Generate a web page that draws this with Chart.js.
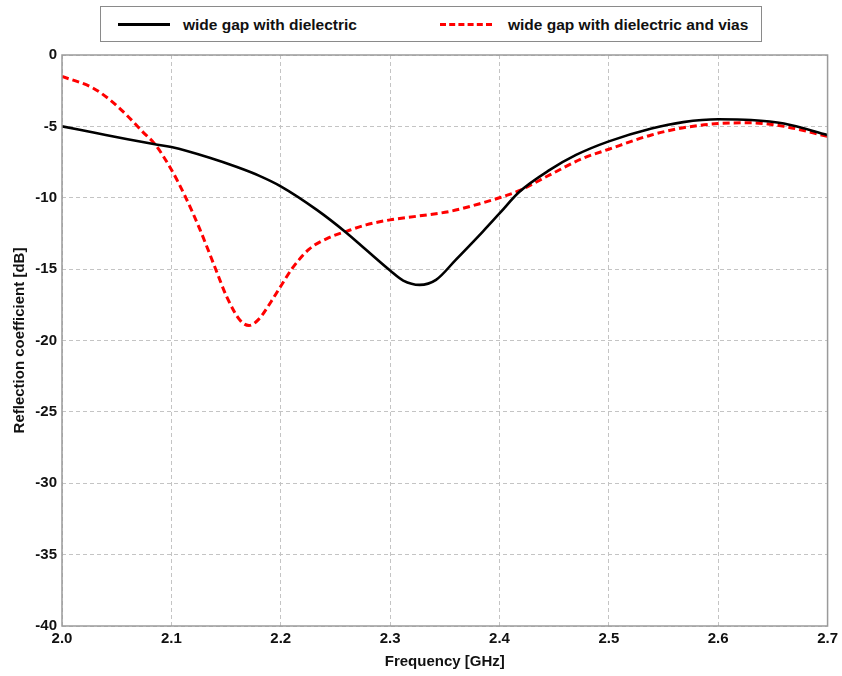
<!DOCTYPE html>
<html>
<head>
<meta charset="utf-8">
<script src="https://cdn.jsdelivr.net/npm/chart.js@4.4.1/dist/chart.umd.min.js"></script>
<style>
  html, body { margin: 0; padding: 0; background: #fff; }
  #wrap { position: relative; width: 842px; height: 676px; }
  #legend {
    position: absolute; left: 100px; top: 6px; width: 662px; height: 36px;
    border: 1px solid #8a8a8a; background: #fff; box-sizing: border-box;
    font: bold 15.5px "Liberation Sans", Arial, sans-serif; color: #111;
  }
  .item { position: absolute; top: 0; height: 35px; display: flex; align-items: center; }
  .sample { width: 52px; height: 0; margin-right: 13px; }
</style>
</head>
<body>
<div id="wrap">
  <canvas id="c" width="842" height="676"></canvas>
  <div id="legend">
    <div class="item" style="left:17px"><span class="sample" style="border-top:3px solid #000"></span><span>wide gap with dielectric</span></div>
    <div class="item" style="left:339px"><span class="sample" style="border-top:3px dashed #ff0000;margin-right:16px"></span><span>wide gap with dielectric and vias</span></div>
  </div>
</div>
<script>
// ---- data ----
const seriesNames = ["wide gap with dielectric", "wide gap with dielectric and vias"];
const freqBlack = [2.000, 2.030, 2.060, 2.085, 2.100, 2.135, 2.160, 2.180, 2.200, 2.233, 2.260, 2.278, 2.300, 2.312, 2.327, 2.342, 2.360, 2.385, 2.400, 2.418, 2.446, 2.470, 2.500, 2.539, 2.568, 2.600, 2.630, 2.660, 2.700];
const dbBlack   = [-5.0, -5.45, -5.9, -6.25, -6.45, -7.2, -7.85, -8.45, -9.2, -10.85, -12.45, -13.65, -15.1, -15.8, -16.1, -15.75, -14.35, -12.35, -11.1, -9.6, -8.05, -7.0, -6.05, -5.15, -4.7, -4.5, -4.55, -4.8, -5.6];
const freqRed = [2.000, 2.028, 2.044, 2.059, 2.074, 2.085, 2.099, 2.112, 2.126, 2.140, 2.151, 2.163, 2.171, 2.180, 2.191, 2.200, 2.211, 2.226, 2.244, 2.260, 2.278, 2.300, 2.324, 2.355, 2.385, 2.400, 2.418, 2.446, 2.476, 2.500, 2.539, 2.568, 2.600, 2.630, 2.660, 2.700];
const dbRed   = [-1.5, -2.3, -3.15, -4.2, -5.4, -6.25, -7.9, -9.8, -12.2, -14.9, -17.0, -18.6, -18.95, -18.5, -17.3, -16.2, -14.9, -13.6, -12.8, -12.35, -11.9, -11.55, -11.3, -10.95, -10.35, -10.0, -9.5, -8.4, -7.25, -6.6, -5.6, -5.1, -4.8, -4.75, -5.0, -5.7];
const xTicks = [2.0, 2.1, 2.2, 2.3, 2.4, 2.5, 2.6, 2.7];
const yTicks = [0, -5, -10, -15, -20, -25, -30, -35, -40];

const toPts = (xs, ys) => xs.map((x, i) => ({ x: x, y: ys[i] }));
const FONT = '"Liberation Sans", Arial, sans-serif';

const frame = {
  id: 'frame',
  afterDatasetsDraw(chart) {
    const a = chart.chartArea, ctx = chart.ctx;
    ctx.save();
    ctx.strokeStyle = '#9a9a9a';
    ctx.lineWidth = 1.5;
    ctx.setLineDash([]);
    ctx.strokeRect(a.left, a.top, a.right - a.left, a.bottom - a.top);
    ctx.restore();
  }
};

new Chart(document.getElementById('c'), {
  type: 'line',
  data: {
    datasets: [
      { label: seriesNames[0], data: toPts(freqBlack, dbBlack), borderColor: '#000000', borderWidth: 2.6,
        pointRadius: 0, cubicInterpolationMode: 'monotone', fill: false },
      { label: seriesNames[1], data: toPts(freqRed, dbRed), borderColor: '#ff0000', borderWidth: 3,
        borderDash: [7, 4], pointRadius: 0, cubicInterpolationMode: 'monotone', fill: false }
    ]
  },
  options: {
    responsive: false, animation: false, devicePixelRatio: 1,
    layout: { padding: { top: 55, right: 14, left: 0, bottom: 0 } },
    plugins: { legend: { display: false }, tooltip: { enabled: false } },
    scales: {
      x: {
        type: 'linear', min: 2.0, max: 2.7,
        afterBuildTicks: s => { s.ticks = xTicks.map(v => ({ value: v })); },
        afterFit: s => { s.height = 50; },
        ticks: { callback: v => v.toFixed(1), font: { family: FONT, size: 15, weight: 'bold' }, color: '#111', padding: 4, maxRotation: 0, autoSkip: false },
        grid: { color: '#c4c4c4', lineWidth: 1, drawTicks: false },
        border: { display: false, dash: [4, 3] },
        title: { display: true, text: 'Frequency [GHz]', font: { family: FONT, size: 15, weight: 'bold' }, color: '#111', padding: { top: 0, bottom: 5 } }
      },
      y: {
        type: 'linear', min: -40, max: 0,
        afterBuildTicks: s => { s.ticks = yTicks.map(v => ({ value: v })); },
        afterFit: s => { s.width = 62; },
        ticks: { font: { family: FONT, size: 15, weight: 'bold' }, color: '#111', padding: 5, autoSkip: false },
        grid: { color: '#c4c4c4', lineWidth: 1, drawTicks: false },
        border: { display: false, dash: [4, 3] },
        title: { display: true, text: 'Reflection coefficient [dB]', font: { family: FONT, size: 15, weight: 'bold' }, color: '#111', padding: { top: 11, bottom: 0 } }
      }
    }
  },
  plugins: [frame]
});
</script>
</body>
</html>
